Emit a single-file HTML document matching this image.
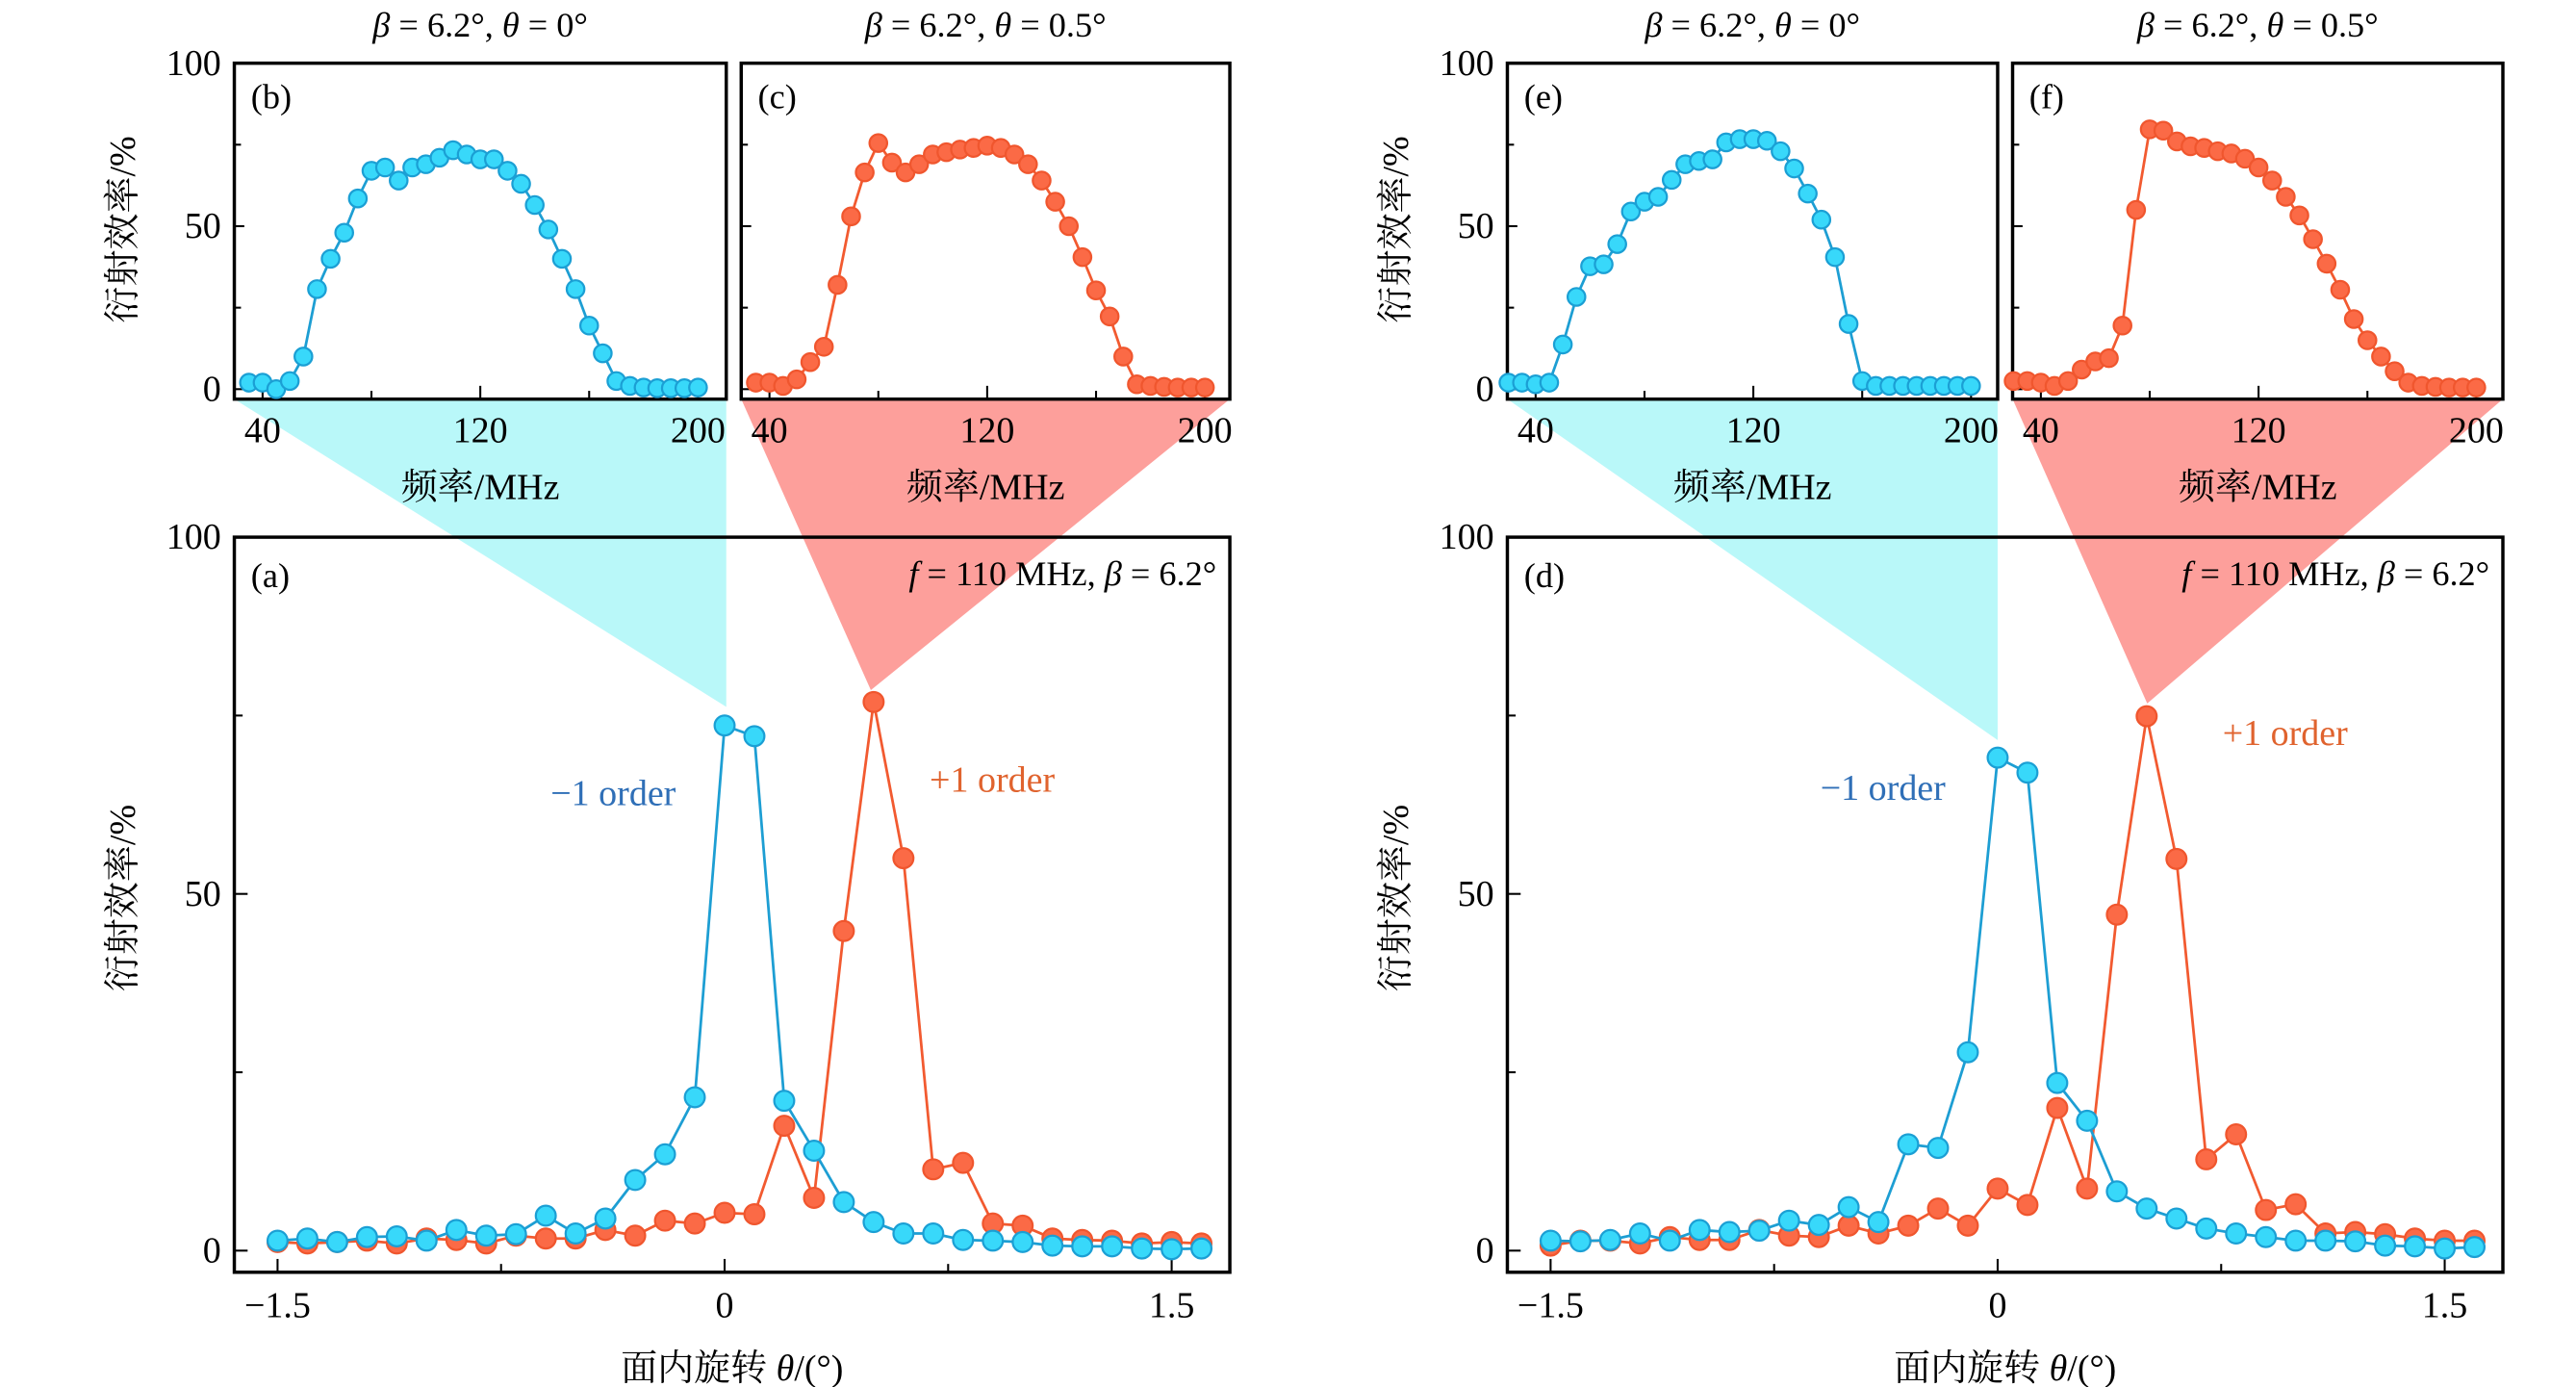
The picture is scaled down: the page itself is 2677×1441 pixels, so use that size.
<!DOCTYPE html>
<html><head><meta charset="utf-8"><style>
html,body{margin:0;padding:0;background:#fff;}
svg{display:block;}
text{font-family:"Liberation Serif","Noto Serif CJK SC",serif;}
</style></head><body>
<svg id="fig" width="2677" height="1441" viewBox="0 0 1550 834" preserveAspectRatio="none" xmlns="http://www.w3.org/2000/svg">
<g id="bg"></g><g id="fg"></g>
</svg>
<script>
// ---- main panel data (angle in degrees) ----
const angles = [-1.5,-1.4,-1.3,-1.2,-1.1,-1.0,-0.9,-0.8,-0.7,-0.6,-0.5,-0.4,-0.3,-0.2,-0.1,0,0.1,0.2,0.3,0.4,0.5,0.6,0.7,0.8,0.9,1.0,1.1,1.2,1.3,1.4,1.5,1.6];
const aMinus = [1.4,1.7,1.2,1.9,2.0,1.4,2.9,2.1,2.3,4.9,2.4,4.5,9.9,13.5,21.5,73.6,72.1,21,14,6.8,4,2.4,2.4,1.5,1.4,1.2,0.7,0.6,0.6,0.3,0.2,0.3];
const aPlus = [1.2,1.0,1.2,1.4,1.0,1.7,1.5,1.0,2.1,1.7,1.7,2.9,2.1,4.2,3.8,5.3,5.1,17.5,7.4,44.8,76.9,55,11.4,12.3,3.8,3.5,1.7,1.5,1.4,1.0,1.2,1.0];
const dMinus = [1.4,1.3,1.5,2.4,1.4,2.9,2.6,2.8,4.2,3.6,6.1,4,14.9,14.4,27.8,69.1,67,23.5,18.2,8.3,5.9,4.5,3.1,2.4,1.9,1.4,1.4,1.3,0.7,0.6,0.3,0.5];
const dPlus = [0.7,1.4,1.4,1.0,1.9,1.5,1.5,2.9,2.1,1.9,3.5,2.4,3.5,5.9,3.5,8.7,6.4,20,8.7,47.1,74.9,54.9,12.8,16.3,5.7,6.5,2.4,2.6,2.3,1.7,1.4,1.4];
// ---- inset data (frequency MHz) ----
const freqB = [35,40,45,50,55,60,65,70,75,80,85,90,95,100,105,110,115,120,125,130,135,140,145,150,155,160,165,170,175,180,185,190,195,200];
const bVals = [2,2,0,2.5,10,30.7,40,48,58.5,67,68,64,68,69,71,73.3,72,70.5,70.5,67,63,56.5,49,40,30.7,19.5,11,2.5,1,0.5,0.3,0.3,0.3,0.5];
const cVals = [2,2,1,3,8.3,13,32,53,66.5,75.5,69.5,66.5,69,72,72.7,73.5,74,74.7,74,72,69,64,57.5,50,40.5,30.3,22.3,10,1.5,1,0.7,0.5,0.5,0.5];
const freqE = [30,35,40,45,50,55,60,65,70,75,80,85,90,95,100,105,110,115,120,125,130,135,140,145,150,155,160,165,170,175,180,185,190,195,200];
const eVals = [2,2,1.5,2,13.7,28.3,37.7,38.3,44.5,54.5,57.5,59,64.2,69,70,70.5,75.7,76.7,76.7,76.2,73,67.7,60,52,40.5,20,2.5,1,1,1,1,1,1,1,1];
const fVals = [2.5,2.5,2,1,2.5,6,8.5,9.5,19.5,55,79.7,79.3,76,74.5,74,73,72.3,70.7,68,64,59,53.3,46,38.5,30.5,21.5,15,10,5.5,2,1,0.7,0.5,0.5,0.5];
const mainXTicks = [-1.5,0,1.5];
const mainXTickLabels = ["\u22121.5","0","1.5"];
const yTicks = [0,50,100];
const insetXTicks = [40,120,200];

const NS="http://www.w3.org/2000/svg";
const bg=document.getElementById('bg'), fg=document.getElementById('fg');
function el(tag,attrs,parent,txt){const e=document.createElementNS(NS,tag);for(const k in attrs)e.setAttribute(k,attrs[k]);if(txt!==undefined)e.textContent=txt;(parent||fg).appendChild(e);return e;}
const BLUE={line:'#1d9ed3',fill:'#38d8fa',stroke:'#1b9fd4'};
const ORNG={line:'#f25a30',fill:'#fb6a46',stroke:'#f0562e'};

function series(xs,ys,sx,sy,col,r,name){
  const g=el('g',{});
  
  
  let d='';xs.forEach((x,i)=>{d+=(i?'L':'M')+sx(x).toFixed(1)+','+sy(ys[i]).toFixed(1);});
  const p=el('path',{d:d,fill:'none',stroke:col.line,'stroke-width':1.6},g);
  
  
  xs.forEach((x,i)=>{const c=el('circle',{cx:sx(x),cy:sy(ys[i]),r:r,fill:col.fill,stroke:col.stroke,'stroke-width':1.3},g);
    
    });
}
function frame(x0,y0,x1,y1,name){const r=el('rect',{x:x0,y:y0,width:x1-x0,height:y1-y0,fill:'none',stroke:'#000','stroke-width':2});
  
  }

function mainPanel(L,R,x0px,tag,minus,plus,labM,labP,id){
  const sx=v=>x0px+v*179.33, sy=v=>752-v*4.29;
  const T=323,B=765;
  frame(L,T,R,B,id+'-frame');
  [-1.5,-0.75,0,0.75,1.5].forEach(v=>el('line',{x1:sx(v),x2:sx(v),y1:B,y2:B-(mainXTicks.includes(v)?8:5),stroke:'#000','stroke-width':1.2}));
  [0,25,50,75,100].forEach(v=>el('line',{x1:L,x2:L+(yTicks.includes(v)?8:5),y1:sy(v),y2:sy(v),stroke:'#000','stroke-width':1.2}));
  mainXTicks.forEach((v,i)=>{const t=el('text',{x:sx(v),y:792,'font-size':22,'text-anchor':'middle'},fg,mainXTickLabels[i]);
    
    });
  yTicks.forEach(v=>{const t=el('text',{x:L-8,y:sy(v)+7,'font-size':22,'text-anchor':'end'},fg,String(v));
    
    });
  let t=el('text',{x:L+10,y:353,'font-size':21},fg,'('+tag+')');
  
  
  t=el('text',{x:R-8,y:352,'font-size':21,'text-anchor':'end'},fg);
  t.innerHTML='<tspan font-style="italic">f</tspan> = 110 MHz, <tspan font-style="italic">β</tspan> = 6.2°';
  
  
  t=el('text',{x:labM[0],y:labM[1],'font-size':22,style:'fill:#2f6fb7','text-anchor':'middle'},fg,'\u22121 order');
  
  
  t=el('text',{x:labP[0],y:labP[1],'font-size':22,style:'fill:#e0632e','text-anchor':'middle'},fg,'+1 order');
  
  
  series(angles,plus,sx,sy,ORNG,6,id+'-plus-order');
  series(angles,minus,sx,sy,BLUE,6,id+'-minus-order');
  t=el('text',{x:(L+R)/2,y:830,'font-size':22,'text-anchor':'middle'},fg);
  t.innerHTML='面内旋转 <tspan font-style="italic">θ</tspan>/(°)';
  
  
  t=el('text',{x:0,y:0,'font-size':22,'text-anchor':'middle',transform:'translate('+(L-60)+',540) rotate(-90)'},fg,'衍射效率/%');
  
  
}

function inset(L,R,x40,tag,xs,ys,col,title,id,showY){
  const sx=v=>x40+(v-40)*1.6375, sy=v=>234-v*1.96;
  const T=38,B=240;
  el('rect',{x:L,y:T,width:R-L,height:B-T,fill:'#fff'});
  frame(L,T,R,B,id+'-frame');
  [40,80,120,160,200].forEach(v=>el('line',{x1:sx(v),x2:sx(v),y1:B,y2:B-(insetXTicks.includes(v)?8:5),stroke:'#000','stroke-width':1.2}));
  [0,25,50,75].forEach(v=>el('line',{x1:L,x2:L+(yTicks.includes(v)?6:4),y1:sy(v),y2:sy(v),stroke:'#000','stroke-width':1.2}));
  insetXTicks.forEach(v=>{const t=el('text',{x:sx(v),y:266,'font-size':22,'text-anchor':'middle'},fg,String(v));
    
    });
  if(showY){yTicks.forEach(v=>{const t=el('text',{x:L-8,y:sy(v)+7,'font-size':22,'text-anchor':'end'},fg,String(v));
    
    });
    const t=el('text',{x:0,y:0,'font-size':22,'text-anchor':'middle',transform:'translate('+(L-60)+',138) rotate(-90)'},fg,'衍射效率/%');
    
    }
  let t=el('text',{x:L+10,y:65,'font-size':21},fg,'('+tag+')');
  
  
  t=el('text',{x:(L+R)/2,y:22,'font-size':21,'text-anchor':'middle'},fg);
  t.innerHTML='<tspan font-style="italic">β</tspan> = 6.2°, <tspan font-style="italic">θ</tspan> = '+title+'°';
  
  
  t=el('text',{x:(L+R)/2,y:300,'font-size':22,'text-anchor':'middle'},fg,'频率/MHz');
  
  
  series(xs,ys,sx,sy,col,5.3,id+'-series');
}
function tri(pts,color,name){const p=el('polygon',{points:pts,fill:color},bg);
  
  }
tri('141,240 437,240 437,425','#b9f8f9','zoom-wedge-b');
tri('446,240 740,240 524,415','#fd9f9b','zoom-wedge-c');
tri('907,240 1202,240 1202,445','#b9f8f9','zoom-wedge-e');
tri('1211,240 1506,240 1292,423','#fd9f9b','zoom-wedge-f');

mainPanel(141,740,436,'a',aMinus,aPlus,[369,484],[597,476],'panel-a');
mainPanel(907,1506,1202,'d',dMinus,dPlus,[1133,481],[1375,448],'panel-d');
inset(141,437,158,'b',freqB,bVals,BLUE,'0','inset-b',true);
inset(446,740,463,'c',freqB,cVals,ORNG,'0.5','inset-c',false);
inset(907,1202,924,'e',freqE,eVals,BLUE,'0','inset-e',true);
inset(1211,1506,1228,'f',freqE,fVals,ORNG,'0.5','inset-f',false);
</script>
</body></html>
